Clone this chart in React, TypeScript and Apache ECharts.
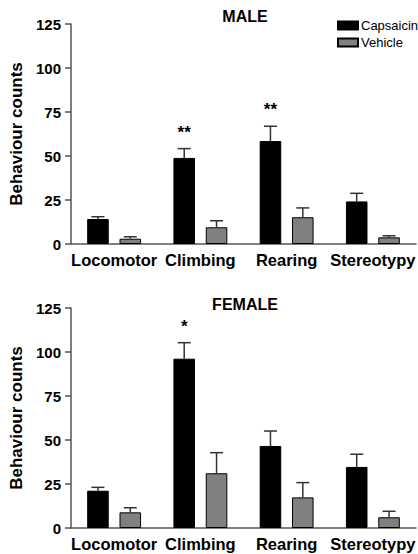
import React, { useEffect, useRef } from "react";
import * as echarts from "echarts";

const categories = ["Locomotor", "Climbing", "Rearing", "Stereotypy"];
const yTicks = { min: 0, max: 125, interval: 25 };

const maleCapsaicin = [14.2, 48.9, 58.5, 24.2];
const maleCapsaicinErr = [1.3, 5.3, 8.4, 4.6];
const maleVehicle = [3.0, 9.5, 15.2, 3.8];
const maleVehicleErr = [1.1, 3.7, 5.3, 0.9];
const maleSig = ["", "**", "**", ""];

const femaleCapsaicin = [21.2, 96.2, 46.6, 34.7];
const femaleCapsaicinErr = [1.9, 9.1, 8.5, 7.2];
const femaleVehicle = [8.9, 31.1, 17.4, 6.1];
const femaleVehicleErr = [2.6, 11.7, 8.4, 3.4];
const femaleSig = ["", "*", "", ""];

const FONT = "'Liberation Sans', Arial, Helvetica, sans-serif";
const AXIS_COLOR = "#555";
const BAR_FRAC = 0.25; // bar width as fraction of band
const GAP_FRAC = 0.5; // gap as fraction of bar width

function errorSeries(
  vals: number[],
  errs: number[],
  sign: number,
  sig: string[],
  axisIndex: number
) {
  return {
    type: "custom",
    xAxisIndex: axisIndex,
    yAxisIndex: axisIndex,
    z: 5,
    silent: true,
    data: vals.map((v, i) => [i, v, errs[i]]),
    renderItem: (params: any, api: any) => {
      const cat = api.value(0);
      const v = api.value(1);
      const e = api.value(2);
      const band = api.size([1, 0])[0];
      const bw = band * BAR_FRAC;
      const offset = sign * (bw + bw * GAP_FRAC) / 2;
      const base = api.coord([cat, v]);
      const top = api.coord([cat, v + e]);
      const x = base[0] + offset;
      const cap = 6.5;
      const lineStyle = { stroke: "#333", lineWidth: 1.5 };
      const children: any[] = [
        { type: "line", shape: { x1: x, y1: base[1], x2: x, y2: top[1] }, style: lineStyle },
        { type: "line", shape: { x1: x - cap, y1: top[1], x2: x + cap, y2: top[1] }, style: lineStyle },
      ];
      const s = sig[params.dataIndex];
      if (s) {
        children.push({
          type: "text",
          x: x,
          y: top[1] - 8,
          style: {
            text: s,
            fill: "#000",
            font: `bold 17px ${FONT}`,
            align: "center",
            verticalAlign: "bottom",
          },
        });
      }
      return { type: "group", children };
    },
  };
}

function barSeries(name: string, vals: number[], color: string, axisIndex: number) {
  return {
    name,
    type: "bar",
    xAxisIndex: axisIndex,
    yAxisIndex: axisIndex,
    data: vals,
    barWidth: `${BAR_FRAC * 100}%`,
    barGap: `${GAP_FRAC * 100}%`,
    itemStyle: { color, borderColor: "#000", borderWidth: 1 },
  };
}

function xAxis(gridIndex: number) {
  return {
    type: "category",
    gridIndex,
    data: categories,
    axisLine: { lineStyle: { color: AXIS_COLOR, width: 1.5 } },
    axisTick: { alignWithLabel: true, length: 5, lineStyle: { color: AXIS_COLOR, width: 1.5 } },
    axisLabel: {
      color: "#000",
      fontFamily: FONT,
      fontWeight: "bold",
      fontSize: 16.5,
      margin: 7,
      interval: 0,
    },
  };
}

function yAxis(gridIndex: number) {
  return {
    type: "value",
    gridIndex,
    min: yTicks.min,
    max: yTicks.max,
    interval: yTicks.interval,
    name: "Behaviour counts",
    nameLocation: "middle",
    nameGap: 46,
    nameTextStyle: { color: "#000", fontFamily: FONT, fontWeight: "bold", fontSize: 17 },
    splitLine: { show: false },
    axisLine: { show: true, lineStyle: { color: AXIS_COLOR, width: 1.5 } },
    axisTick: { show: true, length: 6, lineStyle: { color: AXIS_COLOR, width: 1.5 } },
    axisLabel: { color: "#000", fontFamily: FONT, fontWeight: "bold", fontSize: 15, margin: 10 },
  };
}

export default function App() {
  const ref = useRef<HTMLDivElement>(null);
  useEffect(() => {
    document.body.style.margin = "0";
    const chart = echarts.init(ref.current!, undefined, { renderer: "svg" });
    chart.setOption({
      animation: false,
      backgroundColor: "#fff",
      title: [
        {
          text: "MALE",
          left: 240,
          top: 3,
          textAlign: "center",
          textStyle: { fontFamily: FONT, fontWeight: "bold", fontSize: 16, color: "#000" },
        },
        {
          text: "FEMALE",
          left: 240,
          top: 291,
          textAlign: "center",
          textStyle: { fontFamily: FONT, fontWeight: "bold", fontSize: 16, color: "#000" },
        },
      ],
      legend: {
        data: ["Capsaicin", "Vehicle"],
        orient: "vertical",
        left: 332,
        top: 14,
        itemWidth: 20,
        itemHeight: 8,
        itemGap: 4,
        icon: "rect",
        textStyle: { fontFamily: FONT, fontSize: 13, color: "#000", padding: [0, 0, 0, -2] },
      },
      grid: [
        { left: 64, top: 24, width: 352, height: 220 },
        { left: 64, top: 308, width: 352, height: 220 },
      ],
      xAxis: [xAxis(0), xAxis(1)],
      yAxis: [yAxis(0), yAxis(1)],
      series: [
        barSeries("Capsaicin", maleCapsaicin, "#000", 0),
        barSeries("Vehicle", maleVehicle, "#808080", 0),
        barSeries("Capsaicin", femaleCapsaicin, "#000", 1),
        barSeries("Vehicle", femaleVehicle, "#808080", 1),
        errorSeries(maleCapsaicin, maleCapsaicinErr, -1, maleSig, 0),
        errorSeries(maleVehicle, maleVehicleErr, 1, ["", "", "", ""], 0),
        errorSeries(femaleCapsaicin, femaleCapsaicinErr, -1, femaleSig, 1),
        errorSeries(femaleVehicle, femaleVehicleErr, 1, ["", "", "", ""], 1),
      ],
    });
    return () => chart.dispose();
  }, []);
  return <div ref={ref} style={{ width: 418, height: 554 }} />;
}
